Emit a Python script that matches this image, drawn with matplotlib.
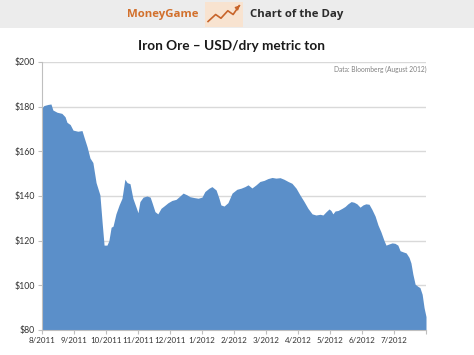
import matplotlib
matplotlib.use("Agg")
import matplotlib.pyplot as plt
from matplotlib.patches import Rectangle

# -------------------------------
# Data: x in months since 8/2011
# -------------------------------
months = [0.0, 0.06, 0.19, 0.28, 0.34, 0.47, 0.62, 0.72, 0.78, 0.88, 0.97,
          1.12, 1.25, 1.31, 1.41, 1.5, 1.59, 1.69, 1.81, 1.88, 1.94, 2.03,
          2.09, 2.16, 2.22, 2.31, 2.41, 2.5, 2.59, 2.66, 2.75, 2.84, 2.94,
          3.0, 3.06, 3.16, 3.28, 3.38, 3.44, 3.53, 3.62, 3.72, 3.81, 3.94,
          4.06, 4.19, 4.31, 4.41, 4.53, 4.62, 4.75, 4.88, 5.0, 5.09, 5.22,
          5.31, 5.44, 5.53, 5.59, 5.69, 5.81, 5.94, 6.09, 6.22, 6.34, 6.44,
          6.56, 6.69, 6.81, 6.94, 7.06, 7.19, 7.31, 7.44, 7.56, 7.69, 7.81,
          7.94, 8.06, 8.19, 8.31, 8.44, 8.56, 8.69, 8.78, 8.88, 8.97, 9.03,
          9.09, 9.16, 9.25, 9.38, 9.47, 9.56, 9.66, 9.75, 9.84, 9.94, 10.03,
          10.12, 10.22, 10.31, 10.41, 10.5, 10.59, 10.69, 10.75, 10.84,
          10.94, 11.03, 11.12, 11.19, 11.28, 11.38, 11.47, 11.53, 11.59,
          11.66, 11.75, 11.81, 11.88, 11.94, 12.0]
price = [179.5, 180.5, 181, 181.2, 178.5, 177.5, 177, 175.5, 173, 172, 169.5,
         169, 169.3, 166.5, 162, 157, 155, 146, 140.5, 128, 118, 118,
         120, 126, 126.5, 132, 136, 139, 147.5, 146, 145.5, 139, 135,
         132.5, 137.5, 139.5, 140, 139.5, 137, 133, 132, 134.5, 135.5, 137,
         138, 138.5, 140, 141.3, 140.5, 139.7, 139.3, 139, 139.5, 142, 143.5,
         144.2, 142.7, 139, 136, 135.5, 137, 141.3, 143, 143.5, 144.2, 145,
         143.6, 145, 146.5, 147, 147.8, 148.3, 148, 148.2, 147.5, 146.5, 145.7,
         143.5, 140.5, 137.5, 134.5, 132, 131.5, 131.8, 131.5, 133, 134.2, 133.5,
         132, 133.3, 133.5, 134.5, 135.3, 136.5, 137.5, 137.2, 136.5, 135, 136,
         136.5, 136.3, 134, 131, 127, 124, 120, 118, 118.5,
         119, 118.8, 118, 115.5, 115, 114.5, 112.5, 110, 105,
         100.5, 99.5, 99, 96, 90, 86]

tick_labels = ["8/2011", "9/2011", "10/2011", "11/2011", "12/2011", "1/2012",
               "2/2012", "3/2012", "4/2012", "5/2012", "6/2012", "7/2012"]
y_ticks = [80, 100, 120, 140, 160, 180, 200]

fig = plt.figure(figsize=(4.74, 3.55), dpi=100)
fig.patch.set_facecolor("white")

# -------------------------------
# Header banner
# -------------------------------
fig.patches.append(Rectangle((0, 1 - 28 / 355), 1, 28 / 355, transform=fig.transFigure,
                             facecolor="#ececec", edgecolor="none", zorder=0))
fig.text(163 / 474, 1 - 15 / 355, "MoneyGame", ha="center", va="center",
         fontsize=8.2, fontweight="bold", color="#d2702c", family="Open Sans")
fig.text(297 / 474, 1 - 15 / 355, "Chart of the Day", ha="center", va="center",
         fontsize=8.2, fontweight="bold", color="#2b2b2b", family="Open Sans")

icon = fig.add_axes([205 / 474, 1 - 27 / 355, 38 / 474, 25 / 355], zorder=5)
icon.set_facecolor("#f8e3d0")
icon.plot([0.08, 0.28, 0.42, 0.6, 0.74, 0.9], [0.22, 0.5, 0.35, 0.65, 0.5, 0.85],
          color="#c8642a", lw=1.2)
icon.annotate("", xy=(0.97, 0.95), xytext=(0.86, 0.78),
              arrowprops=dict(arrowstyle="-|>", color="#c8642a", lw=1.0, mutation_scale=6))
icon.set_xlim(0, 1)
icon.set_ylim(0, 1)
icon.set_xticks([])
icon.set_yticks([])
for s in icon.spines.values():
    s.set_visible(False)

# -------------------------------
# Title
# -------------------------------
fig.text(231 / 474, 1 - 46 / 355, "Iron Ore \u2013 USD/dry metric ton", ha="center", va="center",
         fontsize=9.8, fontweight="bold", color="#1a1a1a", family="Lato")

# -------------------------------
# Main chart
# -------------------------------
ax = fig.add_axes([42 / 474, 1 - 330 / 355, 384 / 474, 268 / 355])
ax.fill_between(months, price, 80, color="#5b8fc9", lw=0, zorder=2)

ax.set_xlim(0, 12)
ax.set_ylim(80, 200)
ax.set_yticks(y_ticks)
ax.set_yticklabels([f"${v}" for v in y_ticks])
ax.set_xticks(range(13))
ax.set_xticklabels(tick_labels + [""])

for v in y_ticks[1:]:
    ax.axhline(v, color="#d9d9d9", lw=1, zorder=1)

for s in ["top", "right"]:
    ax.spines[s].set_visible(False)
for s in ["left", "bottom"]:
    ax.spines[s].set_color("#bfbfbf")
    ax.spines[s].set_zorder(3)

ax.tick_params(axis="both", colors="#bfbfbf", labelcolor="#333333",
               length=3, width=0.8, pad=2)
ax.tick_params(axis="x", labelsize=5.8)
ax.tick_params(axis="y", labelsize=6.3)
for lab in ax.get_xticklabels() + ax.get_yticklabels():
    lab.set_family("Lato")

ax.text(1.0, 0.985, "Data: Bloomberg (August 2012)", transform=ax.transAxes,
        ha="right", va="top", fontsize=4.8, color="#808080", family="Lato")

fig.savefig("out.png", dpi=100)
